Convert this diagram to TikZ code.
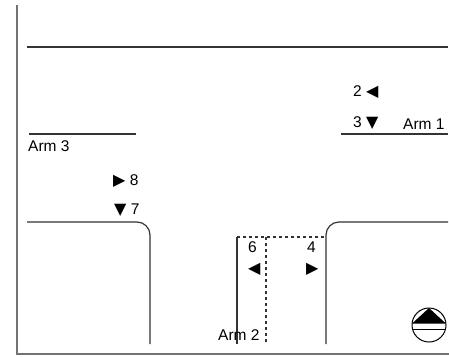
\documentclass[tikz,border=0pt]{standalone}
\usepackage{fontspec}
\setmainfont{Liberation Sans}
\newfontfamily\symfont{DejaVu Sans}
\usepackage{tikz}
\usetikzlibrary{positioning}

\newcommand{\tleft}{{\symfont\fontsize{16}{18}\selectfont ◀}}
\newcommand{\tright}{{\symfont\fontsize{16}{18}\selectfont ▶}}
\newcommand{\tdown}{{\symfont\fontsize{16}{18}\selectfont ▼}}

\begin{document}
\begin{tikzpicture}
 [x=1pt,y=-1pt,
  road/.style={draw=black!80,line width=1.2pt},
  lane/.style={draw=black!80,line width=1.2pt,dashed,dash pattern=on 3pt off 3pt},
  lbl/.style={inner sep=0pt,anchor=base west,font=\fontsize{15.5}{18}\selectfont}]
 \useasboundingbox (0,0) rectangle (449,356);
 % frame
 \draw[black!55,line width=2pt] (17,5) -- (17,354) -- (449,354);
 % road edges
 \draw[road,line width=1.7pt] (27,47) -- (448,47);
 \draw[road,line width=1.5pt] (29,134) -- (136,134);
 \draw[road,line width=1.5pt] (341,134) -- (448,134);
 \draw[road,rounded corners=13pt] (27,222) -- (150,222) -- (150,344);
 \draw[road,rounded corners=13pt] (448,222) -- (326,222) -- (326,344);
 \draw[road] (237,237) -- (237,344);
 \draw[lane] (237,237) -- (326,237);
 \draw[lane] (266,237) -- (266,344);
 % labels
 \node[lbl] (p2) at (353,96) {2 \tleft};
 \node[lbl] (p3) at (353,127) {3 \tdown};
 \node[lbl] (arm1) at (403,129) {Arm 1};
 \node[lbl] (arm3) at (28,151) {Arm 3};
 \node[lbl] (p8) at (113,185) {\tright\ 8};
 \node[lbl] (p7) at (114,214) {\tdown\ 7};
 \node[lbl] (l6) at (248,252) {6};
 \node[lbl] (a6) at (248,273) {\tleft};
 \node[lbl] (l4) at (307,252) {4};
 \node[lbl] (a4) at (306,273) {\tright};
 \node[lbl] (arm2) at (218,340) {Arm 2};
 % north arrow
 \node[circle,draw=black,line width=1pt,minimum size=34pt,inner sep=0pt] (north) at (429,325) {};
 \fill (429,308) -- (412.1,323.5) -- (445.9,323.5) -- cycle;
 \draw[line width=1pt] (412.5,329) -- (445.5,329);
\end{tikzpicture}
\end{document}
